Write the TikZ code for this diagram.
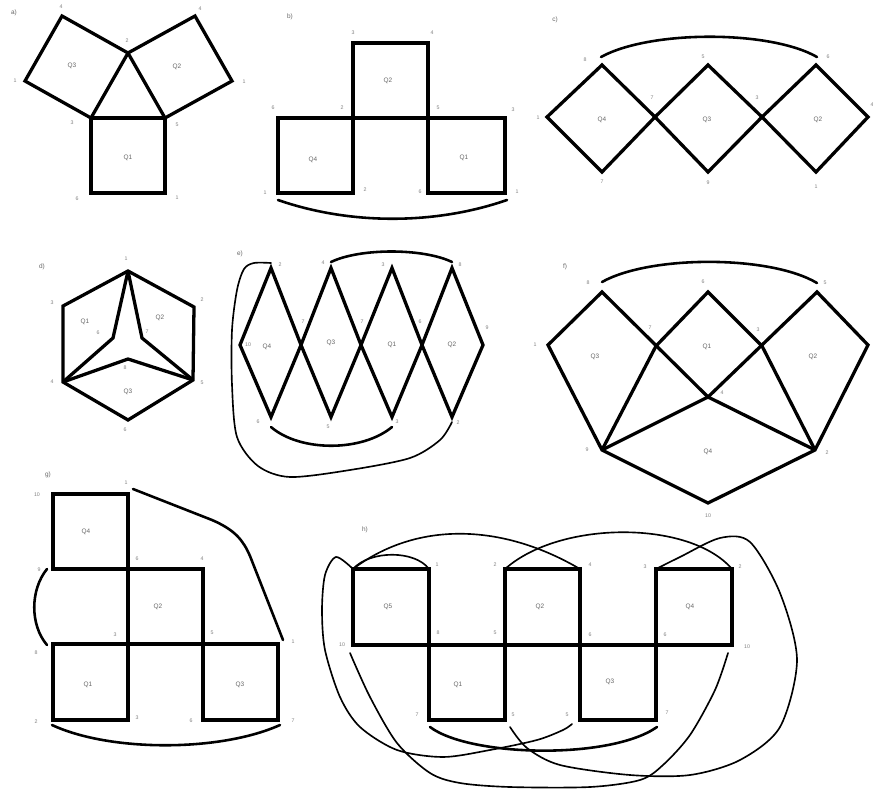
\documentclass[tikz,border=0pt]{standalone}
\usepackage{fontspec}
\setmainfont{Liberation Sans}
\usetikzlibrary{calc}
\tikzset{
    facet/.style={line width=2.8pt, line join=miter},
    seam/.style={line width=2.2pt, line cap=round},
    thinseam/.style={line width=1.4pt, line cap=round},
    vlabel/.style={font=\fontsize{4.5}{5}\selectfont, text=gray, inner sep=0pt}
}

\begin{document}
\begin{tikzpicture}[
    x=0.03cm, y=-0.03cm,
    qlabel/.style={font=\fontsize{5.5}{6}\selectfont, text=gray!80!black, inner sep=0pt},
    panel/.style={font=\fontsize{5.5}{6}\selectfont, text=gray!80!black, inner sep=0pt}
]
\useasboundingbox (0,0) rectangle (873,791);

% a) three squares round a triangle
\coordinate (a1) at (128,53);  \coordinate (a2) at (91,118);  \coordinate (a3) at (165,118);
\coordinate (a4) at (25,81);   \coordinate (a5) at (62,16);   \coordinate (a6) at (232,81);
\coordinate (a7) at (195,16);  \coordinate (a8) at (165,193); \coordinate (a9) at (91,193);
\draw[facet] (a1)--(a5)--(a4)--(a2)--cycle;
\draw[facet] (a1)--(a7)--(a6)--(a3)--cycle;
\draw[facet] (a2)--(a3)--(a8)--(a9)--cycle;

% b) T of squares
\coordinate (b1) at (353,43);  \coordinate (b4) at (428,118);
\coordinate (b5) at (278,118); \coordinate (b8) at (353,193);
\coordinate (b10) at (505,193);
\coordinate (b11) at (278,200); \coordinate (b12) at (507,200);
\draw[facet] (b1) rectangle (b4);
\draw[facet] (b5) rectangle (b8);
\draw[facet] (b4) rectangle (b10);
\draw[seam] (b11) .. controls (350,225) and (435,225) .. (b12);

% c) row of diamonds
\coordinate (c1) at (602,65);  \coordinate (c2) at (547,117); \coordinate (c3) at (602,172);
\coordinate (c4) at (655,117); \coordinate (c5) at (708,65);  \coordinate (c6) at (708,172);
\coordinate (c7) at (762,117); \coordinate (c8) at (816,65);  \coordinate (c9) at (868,117);
\coordinate (c10) at (816,172);
\coordinate (c11) at (601,57); \coordinate (c12) at (817,57);
\draw[facet] (c1)--(c2)--(c3)--(c4)--cycle;
\draw[facet] (c5)--(c4)--(c6)--(c7)--cycle;
\draw[facet] (c8)--(c7)--(c10)--(c9)--cycle;
\draw[seam] (c11) .. controls (650,30) and (770,30) .. (c12);

% d) hexagon with star
\coordinate (d1) at (128,271); \coordinate (d2) at (194,307); \coordinate (d3) at (193,380);
\coordinate (d4) at (128,420); \coordinate (d5) at (63,382);  \coordinate (d6) at (63,306);
\coordinate (d7) at (113,338); \coordinate (d8) at (142,338); \coordinate (d9) at (128,359);
\draw[facet] (d1)--(d2)--(d3)--(d4)--(d5)--(d6)--cycle;
\draw[facet] (d1)--(d7)--(d5);
\draw[facet] (d1)--(d8)--(d3);
\draw[facet] (d5)--(d9)--(d3);

% e) four tall diamonds
\foreach \i/\x in {1/271,2/331,3/392,4/452} {
    \coordinate (et\i) at (\x,268);
    \coordinate (eb\i) at (\x,417);
}
\foreach \i/\x in {0/240,1/301,2/361,3/422,4/483}
    \coordinate (em\i) at (\x,345);
\draw[facet] (et1)--(em0)--(eb1)--(em1)--cycle;
\draw[facet] (et2)--(em1)--(eb2)--(em2)--cycle;
\draw[facet] (et3)--(em2)--(eb3)--(em3)--cycle;
\draw[facet] (et4)--(em3)--(eb4)--(em4)--cycle;
\coordinate (e1) at (331,262); \coordinate (e2) at (452,262);
\coordinate (e3) at (271,427); \coordinate (e4) at (392,427);
\coordinate (e5) at (271,263); \coordinate (e6) at (452,422);
\draw[seam] (e1) .. controls (360,248) and (423,248) .. (e2);
\draw[seam] (e3) .. controls (300,452) and (362,452) .. (e4);
\draw[thinseam] plot[smooth] coordinates {(e5) (254,263) (244,269) (237,290) (232,330)
    (232,385) (237,437) (258,466) (290,477) (350,470) (410,458) (440,440) (e6)};

% f) net round a centre point
\coordinate (f1) at (602,292); \coordinate (f2) at (548,345); \coordinate (f3) at (602,450);
\coordinate (f4) at (656,346); \coordinate (f5) at (708,292); \coordinate (f6) at (762,346);
\coordinate (f7) at (817,292); \coordinate (f8) at (868,345); \coordinate (f9) at (815,450);
\coordinate (f10) at (708,397); \coordinate (f11) at (708,503);
\coordinate (f12) at (602,282); \coordinate (f13) at (817,283);
\draw[facet] (f2)--(f1)--(f10)--(f7)--(f8)--(f9)--(f11)--(f3)--cycle;
\draw[facet] (f3)--(f4)--(f5)--(f6)--(f9);
\draw[facet] (f3)--(f10)--(f9);
\draw[seam] (f12) .. controls (650,255) and (770,255) .. (f13);

% g) staircase of squares
\foreach \c/\x in {0/53,1/128,2/203,3/278}
    \foreach \r/\y in {0/494,1/569,2/644,3/720}
        \coordinate (g\c\r) at (\x,\y);
\draw[facet] (g00) rectangle (g11);
\draw[facet] (g11) rectangle (g22);
\draw[facet] (g02) rectangle (g13);
\draw[facet] (g22) rectangle (g33);
\draw[facet] (g02)--(g32);
\coordinate (g1) at (47,569);  \coordinate (g2) at (47,645);
\coordinate (g3) at (52,725);  \coordinate (g4) at (280,725);
\coordinate (g5) at (133,489); \coordinate (g6) at (283,640);
\draw[seam] (g1) .. controls (30,590) and (30,625) .. (g2);
\draw[seam] (g3) .. controls (110,752) and (220,752) .. (g4);
\draw[seam] (g5) -- (212,520) .. controls (235,530) and (243,540) .. (250,556) -- (g6);

% h) zigzag of squares
\foreach \c/\x in {0/353,1/429,2/505,3/580,4/656,5/732}
    \foreach \r/\y in {0/569,1/645,2/720}
        \coordinate (h\c\r) at (\x,\y);
\draw[facet] (h00) rectangle (h11);
\draw[facet] (h20) rectangle (h31);
\draw[facet] (h40) rectangle (h51);
\draw[facet] (h11) rectangle (h22);
\draw[facet] (h31) rectangle (h42);
\draw[facet] (h01)--(h51);
\coordinate (h1) at (510,727); \coordinate (h2) at (572,724);
\coordinate (h3) at (350,653); \coordinate (h4) at (728,653);
\coordinate (h5) at (430,727); \coordinate (h6) at (657,727);
\draw[thinseam] (h00) .. controls (370,550) and (415,550) .. (h10);
\draw[thinseam] (h00) .. controls (415,522) and (500,522) .. (h30);
\draw[thinseam] (h20) .. controls (560,520) and (690,520) .. (h50);
\draw[thinseam] plot[smooth] coordinates {(h40) (680,557) (720,538) (750,542) (780,593)
    (797,660) (780,727) (740,760) (690,775) (630,775) (560,765) (527,748) (h1)};
\draw[thinseam] plot[smooth] coordinates {(h00) (336,557) (325,575) (322,610) (325,650)
    (340,697) (360,727) (397,750) (443,757) (490,750) (537,740) (563,730) (h2)};
\draw[thinseam] plot[smooth] coordinates {(h3) (370,697) (397,743) (430,773) (460,783)
    (510,787) (590,787) (640,780) (663,765) (690,735) (715,690) (h4)};
\draw[seam] (h5) .. controls (470,757) and (610,760) .. (h6);

% panel letters
\foreach \x/\y/\t [count=\i] in {14/13/a), 290/17/b), 555/20/c), 42/267/d),
    240/254/e), 565/267/f), 48/475/g), 365/530/h)}
    \node[panel] (p\i) at (\x,\y) {\t};

% face names
\foreach \x/\y/\t [count=\i] in {72/66/Q3, 177/67/Q2, 128/158/Q1,
    388/81/Q2, 313/160/Q4, 464/158/Q1,
    602/120/Q4, 707/120/Q3, 818/120/Q2,
    85/322/Q1, 160/318/Q2, 128/392/Q3,
    267/347/Q4, 331/343/Q3, 392/345/Q1, 452/345/Q2,
    595/357/Q3, 707/347/Q1, 813/357/Q2, 708/452/Q4,
    86/532/Q4, 158/607/Q2, 88/685/Q1, 240/685/Q3,
    388/607/Q5, 540/607/Q2, 690/607/Q4, 458/685/Q1, 610/682/Q3}
    \node[qlabel] (q\i) at (\x,\y) {\t};

% vertex numbers
\foreach \x/\y/\t [count=\i] in {61/7/4, 127/41/2, 15/81/1, 72/123/3, 200/9/4,
    244/82/1, 177/125/5, 77/199/6, 177/198/1,
    353/33/3, 432/33/4, 273/108/6, 342/108/2, 438/108/5, 513/110/3,
    265/193/1, 365/190/2, 420/192/6, 517/192/1,
    585/60/8, 703/57/5, 828/57/6, 538/118/1, 652/98/7, 757/98/3,
    872/105/4, 602/182/7, 708/183/9, 816/187/1,
    126/259/1, 202/300/2, 52/303/3, 52/382/4, 202/383/5, 125/430/6,
    98/333/6, 147/332/7, 125/368/8,
    280/265/2, 323/263/4, 383/265/3, 460/265/8, 248/345/10, 303/322/7,
    362/322/7, 420/322/6, 487/328/9, 258/422/6, 328/427/5, 397/422/3, 458/423/2,
    588/283/8, 703/282/6, 825/283/5, 535/345/1, 650/328/7, 758/330/3,
    722/393/4, 587/450/9, 827/453/2, 708/516/10,
    37/495/10, 126/483/1, 39/570/9, 137/559/6, 202/559/4, 115/635/3,
    212/633/5, 36/653/8, 293/642/1, 36/722/2, 137/718/3, 191/721/6, 293/721/7,
    437/565/1, 495/565/2, 590/565/4, 645/567/3, 740/567/2, 342/645/10,
    438/633/8, 495/633/5, 590/635/6, 665/635/6, 747/647/10, 417/715/7,
    513/715/5, 567/715/5, 667/713/7}
    \node[vlabel] (v\i) at (\x,\y) {\t};
\end{tikzpicture}
\end{document}
